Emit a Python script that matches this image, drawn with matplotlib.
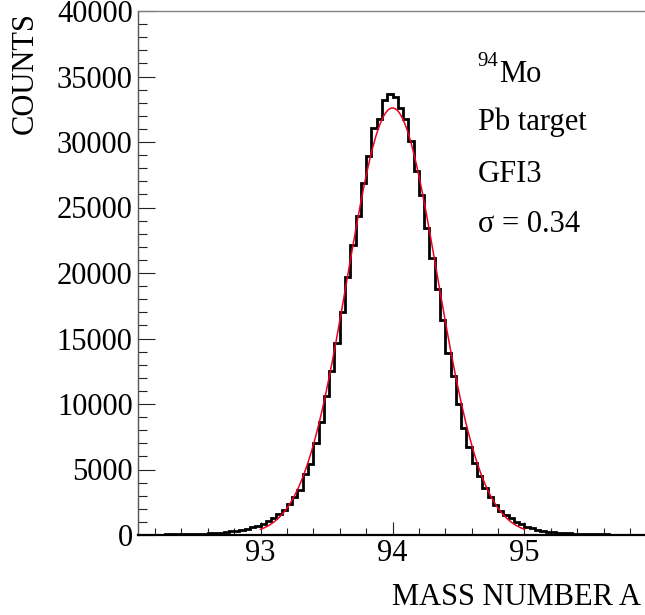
import numpy as np
import matplotlib
matplotlib.use("Agg")
import matplotlib.pyplot as plt
from matplotlib.ticker import MultipleLocator

plt.rcParams['font.family'] = ['Liberation Serif', 'DejaVu Serif']

# ---- data ----
bin_start = 92.04
bin_width = 0.04
counts = [
    20, 20, 25, 30, 30, 35, 40, 45, 50, 60,
    70, 80, 90, 110, 130, 150, 180, 220, 270, 330,
    400, 480, 580, 700, 850, 1050, 1300, 1600, 1900, 2400,
    2920, 3440, 4660, 5420, 7050, 8650, 10610, 12540, 14630, 17050,
    19720, 22140, 24350, 26850, 28950, 31040, 31730, 33210, 33650, 33460,
    32570, 31730, 30080, 27820, 25950, 23450, 21110, 18790, 16410, 13920,
    12140, 10000, 8140, 6740, 5520, 4500, 3560, 2920, 2290, 1860,
    1530, 1270, 970, 810, 640, 500, 400, 320, 260, 210,
    170, 140, 120, 100, 85, 70, 60, 50, 45, 40,
    35, 30, 30, 25, 20, 20, 20, 15,
]
# Gaussian fit parameters
fit_amp = 32600.0
fit_mean = 94.0
fit_sigma = 0.34
fit_range = (93.0, 95.0)

x_ticks = [93, 94, 95]
y_ticks = [0, 5000, 10000, 15000, 20000, 25000, 30000, 35000, 40000]
xlim = (92.074, 95.913)
ylim = (0, 40000)

W, H = 645, 615
fig = plt.figure(figsize=(W / 100, H / 100), dpi=100)
ax = fig.add_axes([138.3 / W, 1 - 535 / H, 1 - 138.3 / W, (535 - 11) / H])

edges = bin_start + bin_width * np.arange(len(counts) + 1)
ax.stairs(counts, edges, color='black', linewidth=2.0, baseline=None, zorder=3)

xf = np.linspace(fit_range[0], fit_range[1], 400)
yf = fit_amp * np.exp(-0.5 * ((xf - fit_mean) / fit_sigma) ** 2)
ax.plot(xf, yf, color='#ee0020', linewidth=1.1, zorder=4)

ax.set_xlim(*xlim)
ax.set_ylim(*ylim)
ax.set_xticks(x_ticks)
ax.set_yticks(y_ticks)
ax.xaxis.set_minor_locator(MultipleLocator(0.2))
ax.yaxis.set_minor_locator(MultipleLocator(1000))
ax.tick_params(axis='both', which='both', direction='in', width=0.8, color='#222222',
               labelsize=22)
ax.tick_params(axis='y', which='major', length=12.2, pad=4.0)
ax.tick_params(axis='y', which='minor', length=6.5)
ax.tick_params(axis='x', which='major', length=9.4, pad=3)
ax.tick_params(axis='x', which='minor', length=4.7)
ax.tick_params(top=False, right=False, which='both')

ax.spines['right'].set_visible(False)
ax.spines['top'].set_color('#808080')
ax.spines['top'].set_linewidth(1.0)
ax.spines['left'].set_color('#555555')
ax.spines['left'].set_linewidth(1.0)
ax.spines['bottom'].set_color('black')
ax.spines['bottom'].set_linewidth(1.6)

def px(x, y):
    return x / W, 1 - y / H

fig.text(*px(25, 12), 'COUNTS', rotation=90, ha='center', va='top', fontsize=22)
fig.text(*px(641, 605), 'MASS NUMBER A', ha='right', va='baseline', fontsize=22)

fig.text(*px(477.7, 66), '94', ha='left', va='baseline', fontsize=15)
fig.text(*px(499.5, 81.7), 'Mo', ha='left', va='baseline', fontsize=22)
fig.text(*px(477.7, 130), 'Pb target', ha='left', va='baseline', fontsize=22)
fig.text(*px(477.7, 181.7), 'GFI3', ha='left', va='baseline', fontsize=22)
fig.text(*px(477.7, 231.7), 'σ = 0.34', ha='left', va='baseline', fontsize=22)

fig.savefig('out.png', dpi=100)
